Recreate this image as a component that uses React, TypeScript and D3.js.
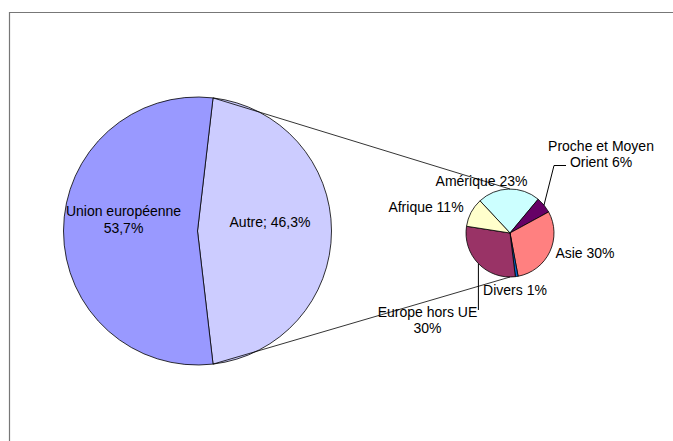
import React from "react";
import * as d3 from "d3";

// Primary pie
const mainCategories = ["Union européenne", "Autre"];
const mainValues = [53.7, 46.3];
const mainLabels = [["Union européenne", "53,7%"], ["Autre; 46,3%"]];
const mainColors = ["#9999FF", "#CCCCFF"];

// Secondary pie (breakdown of "Autre")
const subCategories = ["Amérique", "Proche et Moyen Orient", "Asie", "Divers", "Europe hors UE", "Afrique"];
const subValues = [23, 6, 30, 1, 29.4, 10.6];
const subLabels = [
  ["Amérique 23%"],
  ["Proche et Moyen", "Orient 6%"],
  ["Asie 30%"],
  ["Divers 1%"],
  ["Europe hors UE", "30%"],
  ["Afrique 11%"],
];
const subColors = ["#CCFFFF", "#660066", "#FF8080", "#0066CC", "#993366", "#FFFFCC"];

const W = 673;
const H = 441;
const FONT = "'Liberation Sans', Arial, sans-serif";
const FS = 14;

// layout
const big = { cx: 197.5, cy: 231, r: 134 };
const small = { cx: 510, cy: 233, r: 44 };
const smallStart = (-43 * Math.PI) / 180;

// label anchors (center x, first baseline y)
const mainLabelPos: [number, number][] = [
  [123.5, 216],
  [270, 227],
];
const subLabelPos: [number, number][] = [
  [481.5, 185.5],
  [601, 150.5],
  [585, 258],
  [515, 295],
  [427.5, 317],
  [426, 211.5],
];

export default function App() {
  const otherFrac = mainValues[1] / d3.sum(mainValues);
  const otherStart = Math.PI / 2 - otherFrac * Math.PI;
  // order: Autre first so it sits on the right side
  const mainPie = d3
    .pie<number>()
    .sort(null)
    .value((d) => d)
    .startAngle(otherStart)
    .endAngle(otherStart + 2 * Math.PI);
  const mainOrder = [1, 0];
  const mainArcs = mainPie(mainOrder.map((i) => mainValues[i]));
  const bigArc = d3.arc<d3.PieArcDatum<number>>().innerRadius(0).outerRadius(big.r);

  const subPie = d3
    .pie<number>()
    .sort(null)
    .value((d) => d)
    .startAngle(smallStart)
    .endAngle(smallStart + 2 * Math.PI);
  const subArcs = subPie(subValues);
  const smallArc = d3.arc<d3.PieArcDatum<number>>().innerRadius(0).outerRadius(small.r);

  const pt = (c: { cx: number; cy: number }, r: number, a: number): [number, number] => [
    c.cx + r * Math.sin(a),
    c.cy - r * Math.cos(a),
  ];

  const autreArc = mainArcs[0];
  const topSplit = pt(big, big.r, autreArc.startAngle);
  const botSplit = pt(big, big.r, autreArc.endAngle);
  const smallTop: [number, number] = [small.cx, small.cy - small.r];
  const smallBot: [number, number] = [small.cx, small.cy + small.r];

  // leader lines
  const procheMid = (subArcs[1].startAngle + subArcs[1].endAngle) / 2;
  const procheP = pt(small, small.r, procheMid);
  const europeMid = (subArcs[4].startAngle + subArcs[4].endAngle) / 2;
  const europeP = pt(small, small.r, europeMid);

  return (
    <svg
      width={W}
      height={H}
      style={{ position: "absolute", left: 0, top: 0, background: "#fff" }}
      fontFamily={FONT}
      fontSize={FS}
    >
      <rect x={0} y={0} width={W} height={H} fill="#fff" />
      <path d={`M9.5,${H + 5}V12.5H${W + 5}`} fill="none" stroke="#777" strokeWidth={1.2} />

      <g transform={`translate(${big.cx},${big.cy})`}>
        {mainArcs.map((a, k) => (
          <path
            key={mainCategories[mainOrder[k]]}
            d={bigArc(a) || ""}
            fill={mainColors[mainOrder[k]]}
            stroke="#000"
            strokeWidth={0.8}
          />
        ))}
      </g>

      <g transform={`translate(${small.cx},${small.cy})`}>
        {subArcs.map((a, i) => (
          <path key={subCategories[i]} d={smallArc(a) || ""} fill={subColors[i]} stroke="#000" strokeWidth={0.8} />
        ))}
      </g>

      <line x1={topSplit[0]} y1={topSplit[1]} x2={smallTop[0]} y2={smallTop[1]} stroke="#000" strokeWidth={0.8} />
      <line x1={botSplit[0]} y1={botSplit[1]} x2={smallBot[0]} y2={smallBot[1]} stroke="#000" strokeWidth={0.8} />

      <polyline
        points={`566,165.5 554,165.5 ${procheP[0]},${procheP[1]}`}
        fill="none"
        stroke="#000"
        strokeWidth={1}
      />
      <line x1={europeP[0]} y1={europeP[1]} x2={europeP[0]} y2={310} stroke="#000" strokeWidth={1} />

      {mainLabels.map((lines, i) => (
        <text key={"m" + i} x={mainLabelPos[i][0]} y={mainLabelPos[i][1]} textAnchor="middle" fill="#000">
          {lines.map((l, j) => (
            <tspan key={j} x={mainLabelPos[i][0]} dy={j === 0 ? 0 : 16.5}>
              {l}
            </tspan>
          ))}
        </text>
      ))}
      {subLabels.map((lines, i) => (
        <text key={"s" + i} x={subLabelPos[i][0]} y={subLabelPos[i][1]} textAnchor="middle" fill="#000">
          {lines.map((l, j) => (
            <tspan key={j} x={subLabelPos[i][0]} dy={j === 0 ? 0 : 16}>
              {l}
            </tspan>
          ))}
        </text>
      ))}
    </svg>
  );
}
